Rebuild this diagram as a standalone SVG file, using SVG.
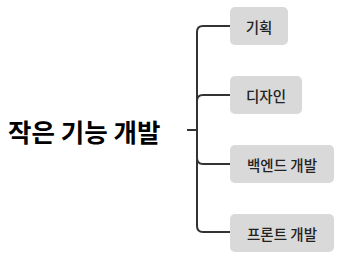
<svg xmlns="http://www.w3.org/2000/svg" width="340" height="257" viewBox="0 0 340 257">
<style>
.box{fill:#d9d9d9;}
.lbl{font-family:"Noto Sans CJK KR","Noto Sans",sans-serif;font-size:14.5px;font-weight:500;fill:#222;text-anchor:middle;dominant-baseline:central;}
.root{font-family:"Noto Sans CJK KR","Noto Sans",sans-serif;font-size:25.5px;font-weight:bold;fill:#000;dominant-baseline:central;}
.conn{fill:none;stroke:#333;stroke-width:2;}
</style>
<rect width="340" height="257" fill="#fff"/>
<g id="connectors">
<path class="conn" d="M187 130 H197"/>
<path class="conn" d="M230 26 H203 Q197 26 197 32 V226 Q197 232 203 232 H230"/>
<path class="conn" d="M230 95 H203 Q197 95 197 101"/>
<path class="conn" d="M230 164 H203 Q197 164 197 158"/>
</g>
<g id="root"><text class="root" x="8" y="130">작은 기능 개발</text></g>
<g id="n1"><rect class="box" x="230" y="7" width="58" height="38" rx="5"/><text class="lbl" x="259" y="26">기획</text></g>
<g id="n2"><rect class="box" x="230" y="76" width="72" height="38" rx="5"/><text class="lbl" x="266" y="95">디자인</text></g>
<g id="n3"><rect class="box" x="230" y="145" width="104" height="38" rx="5"/><text class="lbl" x="282" y="164">백엔드 개발</text></g>
<g id="n4"><rect class="box" x="230" y="214" width="104" height="38" rx="5"/><text class="lbl" x="282" y="233">프론트 개발</text></g>
</svg>
